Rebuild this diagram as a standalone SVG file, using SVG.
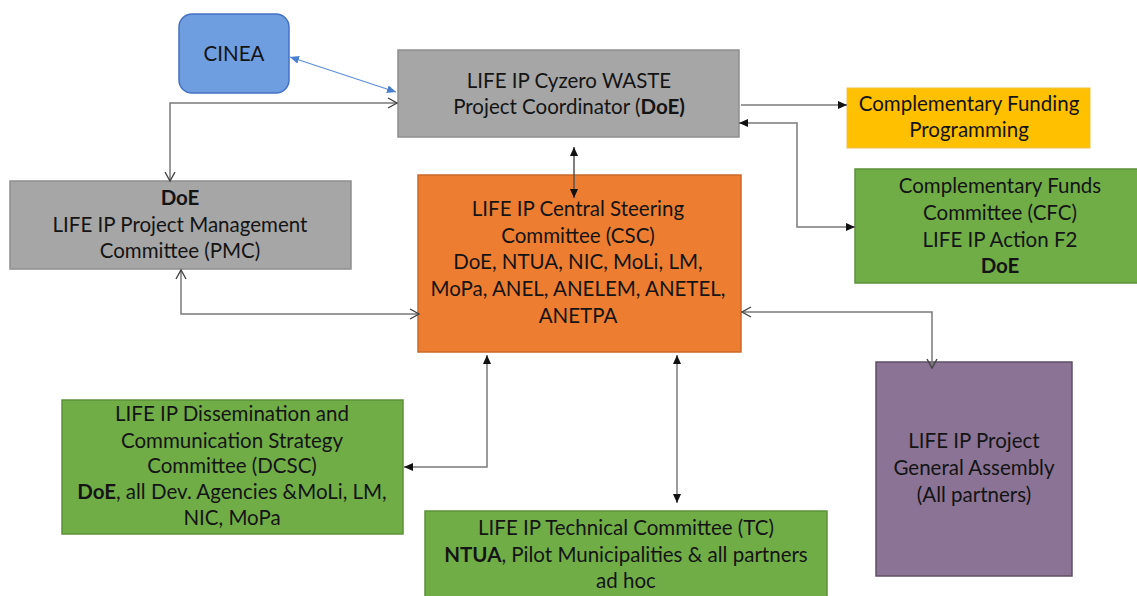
<svg xmlns="http://www.w3.org/2000/svg" width="1137" height="596" viewBox="0 0 1137 596">
<style>
text{font-family:Lato,"Liberation Sans",sans-serif;font-size:20.5px;fill:#141414;text-anchor:middle}
.b{font-weight:bold}
.gray{fill:#a6a6a6;stroke:#8e8e8e;stroke-width:1.5}
.orange{fill:#ed7d31;stroke:#c9692a;stroke-width:1.5}
.green{fill:#70ad47;stroke:#5b9237;stroke-width:1.5}
.yellow{fill:#ffc000;stroke:#f2c04a;stroke-width:1}
.purple{fill:#8a7395;stroke:#5f4f66;stroke-width:1.5}
.blue{fill:#6f9ee0;stroke:#4472c4;stroke-width:1.5}
.c{fill:none;stroke:#7a7a7a;stroke-width:1.5}
.cd{fill:none;stroke:#555;stroke-width:1.5}
.cb{fill:none;stroke:#5b8fd6;stroke-width:1.2}
</style>
<defs>
<marker id="fa" markerUnits="userSpaceOnUse" markerWidth="10" markerHeight="8" refX="9" refY="4" orient="auto-start-reverse"><path d="M0,0 L9,4 L0,8 z" fill="#111"/></marker>
<marker id="oa" markerUnits="userSpaceOnUse" markerWidth="12" markerHeight="12" refX="10" refY="6" orient="auto-start-reverse"><path d="M1,1 L10,6 L1,11" fill="none" stroke="#444" stroke-width="1.4"/></marker>
<marker id="ba" markerUnits="userSpaceOnUse" markerWidth="10" markerHeight="8" refX="9" refY="4" orient="auto-start-reverse"><path d="M0,0 L9,4 L0,8 z" fill="#4a7fd0"/></marker>
</defs>
<rect width="1137" height="596" fill="#ffffff"/>

<g id="cinea">
<rect class="blue" x="179" y="14" width="110" height="79" rx="13"/>
<text x="234" y="61">CINEA</text>
</g>
<g id="coordinator">
<rect class="gray" x="398" y="50" width="341" height="87"/>
<text x="569" y="88">LIFE IP Cyzero WASTE</text>
<text x="569" y="114">Project Coordinator (<tspan class="b">DoE)</tspan></text>
</g>
<g id="funding-programming">
<rect class="yellow" x="847" y="88" width="243" height="60"/>
<text x="969" y="111">Complementary Funding</text>
<text x="969" y="137">Programming</text>
</g>
<g id="cfc">
<rect class="green" x="855" y="169" width="290" height="114"/>
<text x="1000" y="193">Complementary Funds</text>
<text x="1000" y="220">Committee (CFC)</text>
<text x="1000" y="247">LIFE IP Action F2</text>
<text x="1000" y="273" class="b">DoE</text>
</g>
<g id="pmc">
<rect class="gray" x="10" y="181" width="341" height="88"/>
<text x="180" y="205" class="b">DoE</text>
<text x="180" y="232">LIFE IP Project Management</text>
<text x="180" y="258">Committee (PMC)</text>
</g>
<g id="csc">
<rect class="orange" x="418" y="175" width="323" height="177"/>
<text x="578" y="216">LIFE IP Central Steering</text>
<text x="578" y="243">Committee (CSC)</text>
<text x="578" y="269">DoE, NTUA, NIC, MoLi, LM,</text>
<text x="578" y="296">MoPa, ANEL, ANELEM, ANETEL,</text>
<text x="578" y="323">ANETPA</text>
</g>
<g id="dcsc">
<rect class="green" x="62" y="400" width="341" height="134"/>
<text x="232" y="421">LIFE IP Dissemination and</text>
<text x="232" y="448">Communication Strategy</text>
<text x="232" y="473">Committee (DCSC)</text>
<text x="232" y="499"><tspan class="b">DoE</tspan>, all Dev. Agencies &amp;MoLi, LM,</text>
<text x="232" y="525">NIC, MoPa</text>
</g>
<g id="tc">
<rect class="green" x="425" y="511" width="402" height="95"/>
<text x="626" y="535">LIFE IP Technical Committee (TC)</text>
<text x="626" y="562"><tspan class="b">NTUA</tspan>, Pilot Municipalities &amp; all partners</text>
<text x="626" y="588">ad hoc</text>
</g>
<g id="general-assembly">
<rect class="purple" x="876" y="362" width="196" height="214"/>
<text x="974" y="448">LIFE IP Project</text>
<text x="974" y="475">General Assembly</text>
<text x="974" y="502">(All partners)</text>
</g>

<g id="connectors">
<path class="cb" d="M290,57 L396,92" marker-start="url(#ba)" marker-end="url(#ba)"/>
<path class="c" d="M170,181 V103 H397" marker-start="url(#oa)" marker-end="url(#oa)"/>
<path class="cd" d="M574,147 V198" marker-start="url(#fa)" marker-end="url(#fa)"/>
<path class="c" d="M741,105 H847" marker-end="url(#fa)"/>
<path class="c" d="M739,123 H797 V227 H855" marker-start="url(#fa)" marker-end="url(#fa)"/>
<path class="c" d="M181,270 V314 H419" marker-start="url(#oa)" marker-end="url(#oa)"/>
<path class="c" d="M742,312 H932 V368" marker-start="url(#oa)" marker-end="url(#oa)"/>
<path class="c" d="M487,355 V467 H404" marker-start="url(#fa)" marker-end="url(#fa)"/>
<path class="c" d="M677,355 V503" marker-start="url(#fa)" marker-end="url(#fa)"/>
</g>
</svg>
